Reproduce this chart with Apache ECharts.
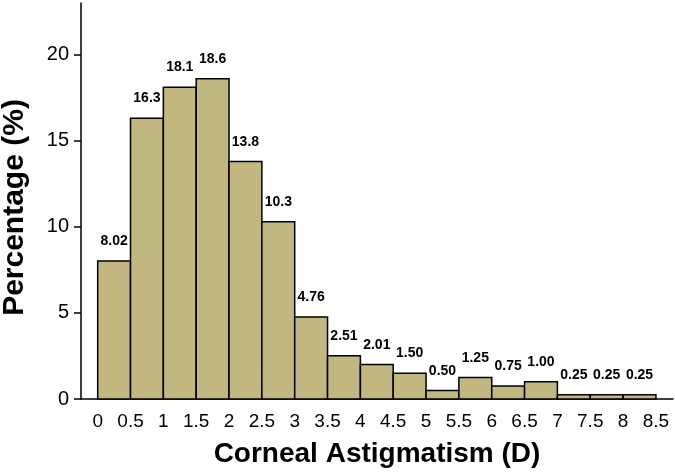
<!DOCTYPE html>
<html>
<head>
<meta charset="utf-8">
<script src="https://cdn.jsdelivr.net/npm/echarts@6/dist/echarts.min.js"></script>
<style>html,body{margin:0;padding:0;background:#fff}#c{width:675px;height:476px}</style>
</head>
<body>
<div id="c"></div>
<script>
var binEdges = [0, 0.5, 1, 1.5, 2, 2.5, 3, 3.5, 4, 4.5, 5, 5.5, 6, 6.5, 7, 7.5, 8, 8.5];
var percentages = [8.02, 16.3, 18.1, 18.6, 13.8, 10.3, 4.76, 2.51, 2.01, 1.50, 0.50, 1.25, 0.75, 1.00, 0.25, 0.25, 0.25];
var valueLabels = ['8.02', '16.3', '18.1', '18.6', '13.8', '10.3', '4.76', '2.51', '2.01', '1.50', '0.50', '1.25', '0.75', '1.00', '0.25', '0.25', '0.25'];
var yTicks = [0, 5, 10, 15, 20];

var data = percentages.map(function (v, i) { return [binEdges[i], binEdges[i + 1], v]; });

var chart = echarts.init(document.getElementById('c'), null, {renderer: 'canvas'});
var FONT = 'Liberation Sans, Arial, sans-serif';
chart.setOption({
  animation: false,
  grid: {left: 81, right: 2, top: 3, bottom: 77, containLabel: false, outerBoundsMode: 'none'},
  xAxis: {
    type: 'value', min: -0.254, max: 8.76,
    splitLine: {show: false},
    axisLine: {show: true, onZero: false, lineStyle: {color: '#000', width: 1.5}},
    axisTick: {show: false},
    axisLabel: {customValues: binEdges, color: '#000', fontSize: 19, fontFamily: FONT, margin: 13},
    name: 'Corneal Astigmatism (D)', nameLocation: 'middle', nameGap: 41,
    nameTextStyle: {color: '#000', fontSize: 28, fontWeight: 'bold', fontFamily: FONT}
  },
  yAxis: {
    type: 'value', min: 0, max: 23,
    splitLine: {show: false},
    axisLine: {show: true, onZero: false, lineStyle: {color: '#000', width: 1.5}},
    axisTick: {show: true, customValues: yTicks, length: 7, lineStyle: {color: '#000', width: 1.5}},
    axisLabel: {customValues: yTicks, color: '#000', fontSize: 20, fontFamily: FONT, margin: 12},
    name: 'Percentage (%)', nameLocation: 'middle', nameGap: 51,
    nameTextStyle: {color: '#000', fontSize: 30, fontWeight: 'bold', fontFamily: FONT, padding: [0, 13, 0, 0]}
  },
  series: [{
    type: 'custom',
    data: data,
    encode: {x: [0, 1], y: 2},
    renderItem: function (params, api) {
      var p0 = api.coord([api.value(0), 0]);
      var p1 = api.coord([api.value(1), api.value(2)]);
      return {
        type: 'rect',
        shape: {x: p0[0], y: p1[1], width: p1[0] - p0[0], height: p0[1] - p1[1]},
        style: {fill: '#C2B780', stroke: '#000', lineWidth: 1.5},
        textContent: {
          style: {text: valueLabels[params.dataIndex], fill: '#000', fontSize: 14, fontWeight: 'bold', fontFamily: FONT}
        },
        textConfig: {position: 'top', distance: 12}
      };
    }
  }]
});
</script>
</body>
</html>
